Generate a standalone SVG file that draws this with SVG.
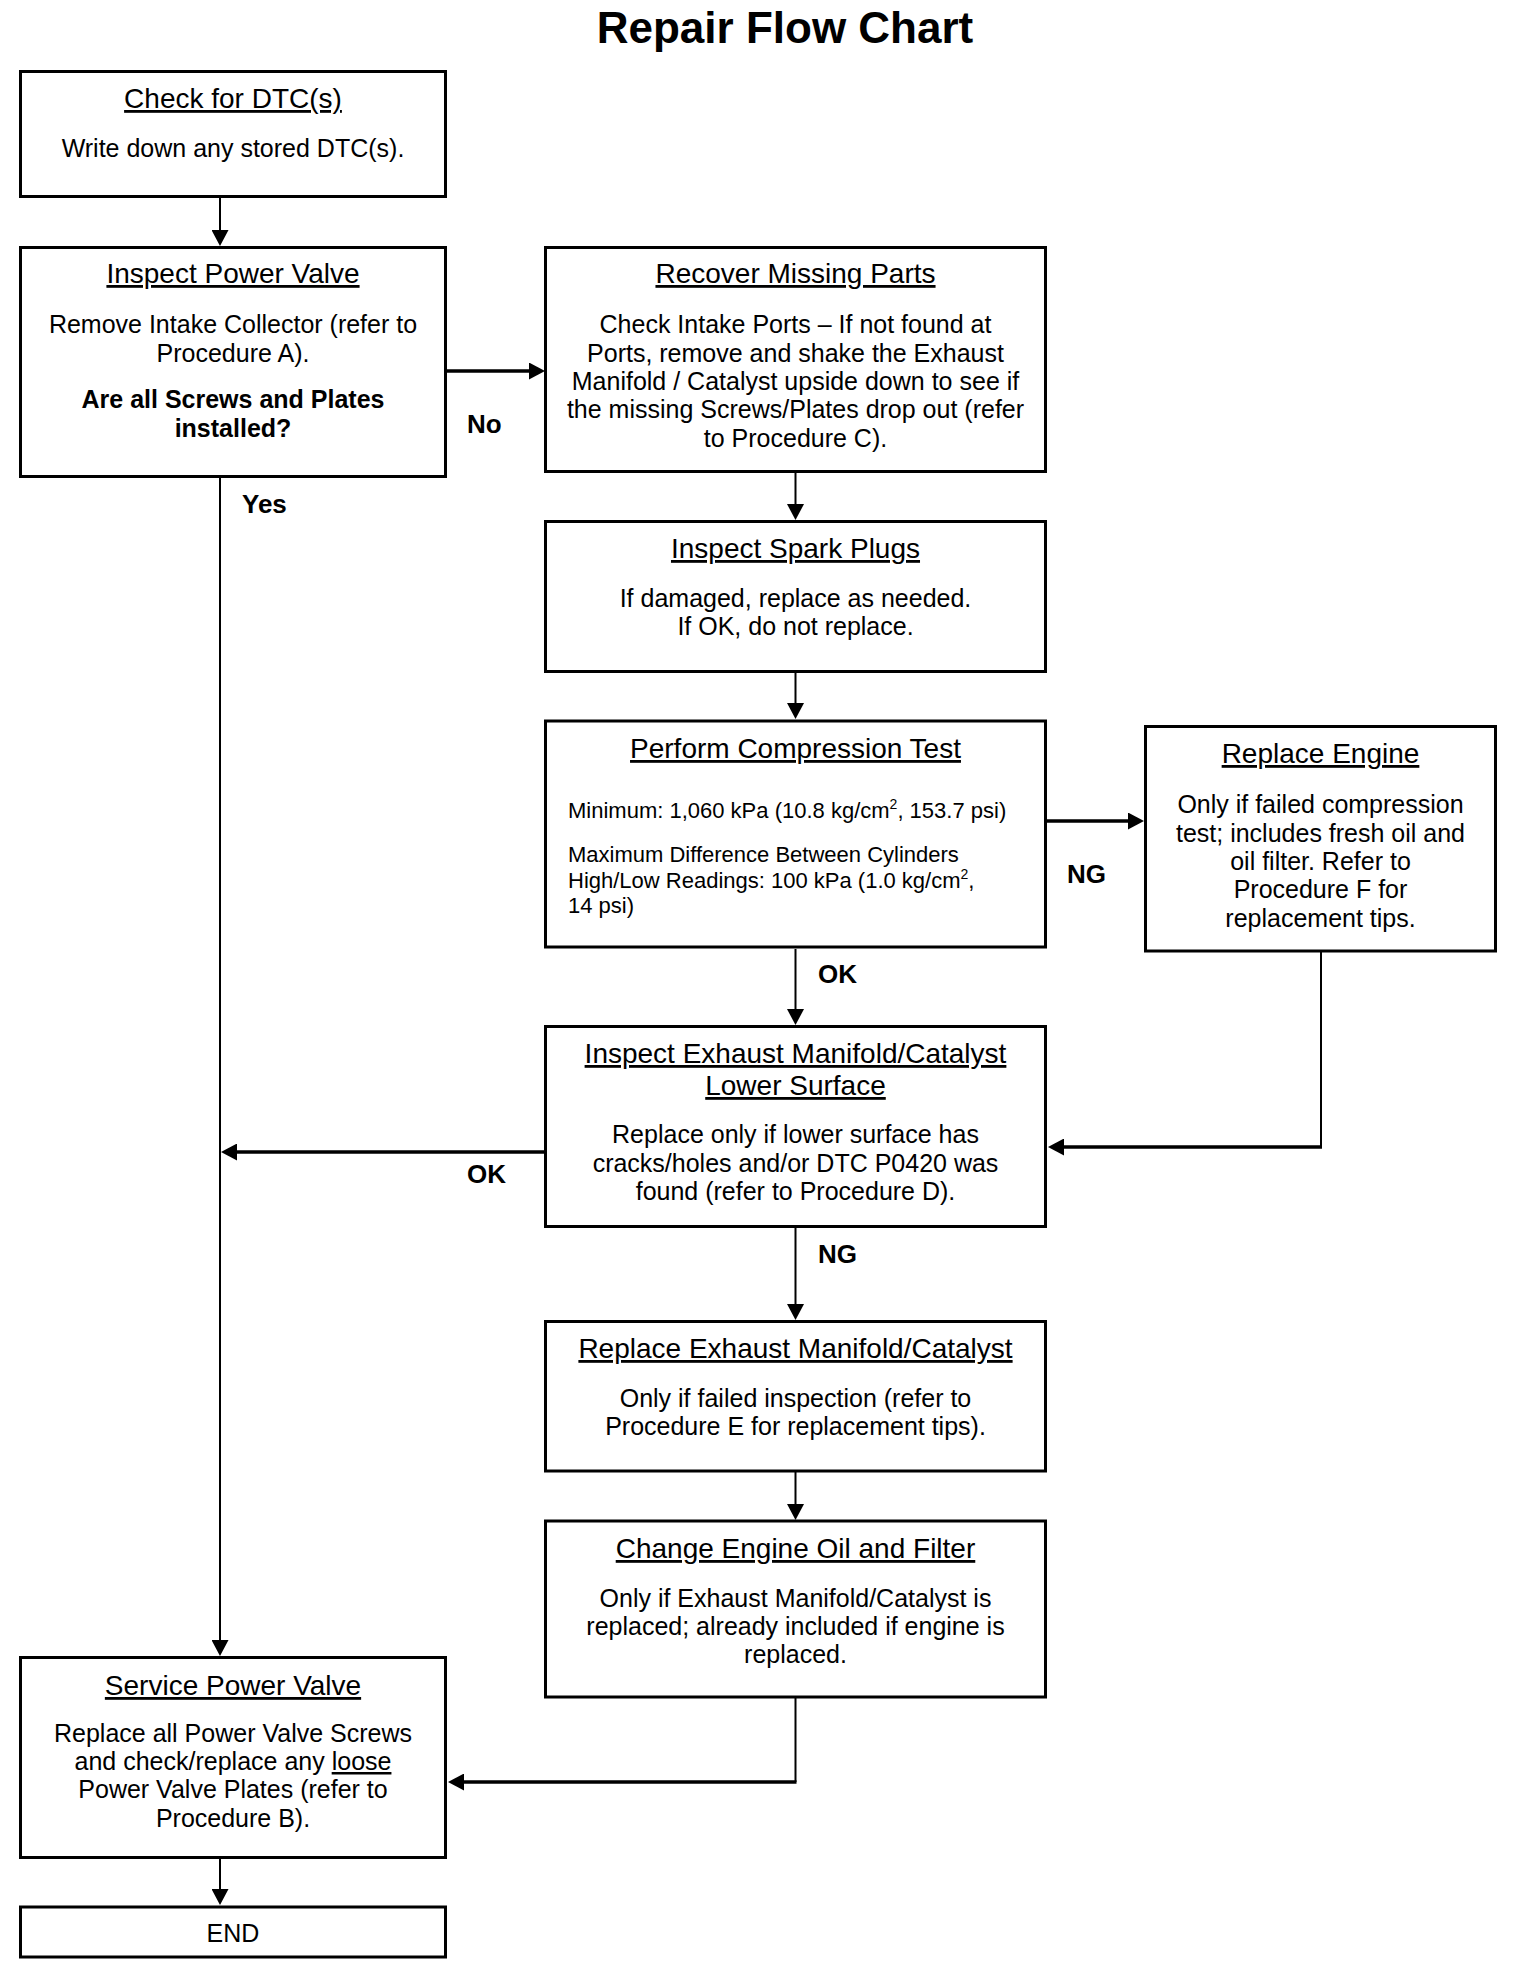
<svg xmlns="http://www.w3.org/2000/svg" width="1520" height="1968" viewBox="0 0 1520 1968">
<style>
.box{fill:#fff;stroke:#000;stroke-width:3}
text{font-family:"Liberation Sans",Arial,sans-serif;fill:#000}
.title{font-size:44px;font-weight:bold;text-anchor:middle}
.h{font-size:28px;text-anchor:middle;text-decoration:underline}
.t{font-size:25px;text-anchor:middle}
.tb{font-size:25px;font-weight:bold;text-anchor:middle}
.s{font-size:22px}
.lbl{font-size:26px;font-weight:bold}
.cv{fill:none;stroke:#000;stroke-width:2}
.ch{fill:none;stroke:#000;stroke-width:3.5}
</style>
<defs>
<marker id="ah" markerUnits="userSpaceOnUse" markerWidth="16" markerHeight="17" refX="8" refY="8.5" orient="auto" viewBox="0 0 16 17">
<path d="M0,0 L16,8.5 L0,17 Z" fill="#000"/>
</marker>
</defs>
<rect x="0" y="0" width="1520" height="1968" fill="#fff"/>
<text class="title" x="785" y="43">Repair Flow Chart</text>

<g id="connectors">
<path class="cv" d="M220,197 V238" marker-end="url(#ah)"/>
<path class="ch" d="M447,371 H537" marker-end="url(#ah)"/>
<path class="cv" d="M220,478 V1648" marker-end="url(#ah)"/>
<path class="cv" d="M795.5,473 V512" marker-end="url(#ah)"/>
<path class="cv" d="M795.5,673 V711" marker-end="url(#ah)"/>
<path class="ch" d="M1047,821 H1136" marker-end="url(#ah)"/>
<path class="cv" d="M795.5,949 V1017" marker-end="url(#ah)"/>
<path class="cv" d="M1321,952 V1147"/>
<path class="ch" d="M1322,1147 H1056" marker-end="url(#ah)"/>
<path class="ch" d="M544,1152 H229" marker-end="url(#ah)"/>
<path class="cv" d="M795.5,1228 V1312" marker-end="url(#ah)"/>
<path class="cv" d="M795.5,1472 V1512" marker-end="url(#ah)"/>
<path class="cv" d="M795.5,1698 V1782"/>
<path class="ch" d="M796.5,1782 H456" marker-end="url(#ah)"/>
<path class="cv" d="M220,1859 V1897" marker-end="url(#ah)"/>
<text class="lbl" x="467" y="433">No</text>
<text class="lbl" x="242" y="513">Yes</text>
<text class="lbl" x="1067" y="883">NG</text>
<text class="lbl" x="818" y="983">OK</text>
<text class="lbl" x="467" y="1183">OK</text>
<text class="lbl" x="818" y="1263">NG</text>
</g>

<g id="check-dtc">
<rect class="box" x="20.5" y="71.5" width="425" height="125"/>
<text class="h" x="233" y="108">Check for DTC(s)</text>
<text class="t" x="233" y="157">Write down any stored DTC(s).</text>
</g>

<g id="inspect-power-valve">
<rect class="box" x="20.5" y="247.5" width="425" height="229"/>
<text class="h" x="233" y="283">Inspect Power Valve</text>
<text class="t" x="233" y="333">Remove Intake Collector (refer to</text>
<text class="t" x="233" y="362">Procedure A).</text>
<text class="tb" x="233" y="408">Are all Screws and Plates</text>
<text class="tb" x="233" y="437">installed?</text>
</g>

<g id="recover-missing-parts">
<rect class="box" x="545.5" y="247.5" width="500" height="224"/>
<text class="h" x="795.5" y="283">Recover Missing Parts</text>
<text class="t" x="795.5" y="333">Check Intake Ports – If not found at</text>
<text class="t" x="795.5" y="362">Ports, remove and shake the Exhaust</text>
<text class="t" x="795.5" y="390">Manifold / Catalyst upside down to see if</text>
<text class="t" x="795.5" y="418">the missing Screws/Plates drop out (refer</text>
<text class="t" x="795.5" y="447">to Procedure C).</text>
</g>

<g id="inspect-spark-plugs">
<rect class="box" x="545.5" y="521.5" width="500" height="150"/>
<text class="h" x="795.5" y="558">Inspect Spark Plugs</text>
<text class="t" x="795.5" y="607">If damaged, replace as needed.</text>
<text class="t" x="795.5" y="635">If OK, do not replace.</text>
</g>

<g id="compression-test">
<rect class="box" x="545.5" y="721" width="500" height="226"/>
<text class="h" x="795.5" y="758">Perform Compression Test</text>
<text class="s" x="568" y="818">Minimum: 1,060 kPa (10.8 kg/cm<tspan font-size="14" dy="-9">2</tspan><tspan dy="9">, 153.7 psi)</tspan></text>
<text class="s" x="568" y="862">Maximum Difference Between Cylinders</text>
<text class="s" x="568" y="888">High/Low Readings: 100 kPa (1.0 kg/cm<tspan font-size="14" dy="-9">2</tspan><tspan dy="9">,</tspan></text>
<text class="s" x="568" y="913">14 psi)</text>
</g>

<g id="replace-engine">
<rect class="box" x="1145.5" y="726.5" width="350" height="224.5"/>
<text class="h" x="1320.5" y="763">Replace Engine</text>
<text class="t" x="1320.5" y="813">Only if failed compression</text>
<text class="t" x="1320.5" y="842">test; includes fresh oil and</text>
<text class="t" x="1320.5" y="870">oil filter. Refer to</text>
<text class="t" x="1320.5" y="898">Procedure F for</text>
<text class="t" x="1320.5" y="927">replacement tips.</text>
</g>

<g id="inspect-exhaust">
<rect class="box" x="545.5" y="1026.5" width="500" height="200"/>
<text class="h" x="795.5" y="1063">Inspect Exhaust Manifold/Catalyst</text>
<text class="h" x="795.5" y="1095">Lower Surface</text>
<text class="t" x="795.5" y="1143">Replace only if lower surface has</text>
<text class="t" x="795.5" y="1172">cracks/holes and/or DTC P0420 was</text>
<text class="t" x="795.5" y="1200">found (refer to Procedure D).</text>
</g>

<g id="replace-exhaust">
<rect class="box" x="545.5" y="1321.5" width="500" height="149.5"/>
<text class="h" x="795.5" y="1358">Replace Exhaust Manifold/Catalyst</text>
<text class="t" x="795.5" y="1407">Only if failed inspection (refer to</text>
<text class="t" x="795.5" y="1435">Procedure E for replacement tips).</text>
</g>

<g id="change-oil">
<rect class="box" x="545.5" y="1521" width="500" height="176"/>
<text class="h" x="795.5" y="1558">Change Engine Oil and Filter</text>
<text class="t" x="795.5" y="1607">Only if Exhaust Manifold/Catalyst is</text>
<text class="t" x="795.5" y="1635">replaced; already included if engine is</text>
<text class="t" x="795.5" y="1663">replaced.</text>
</g>

<g id="service-power-valve">
<rect class="box" x="20.5" y="1657.5" width="425" height="200"/>
<text class="h" x="233" y="1695">Service Power Valve</text>
<text class="t" x="233" y="1742">Replace all Power Valve Screws</text>
<text class="t" x="233" y="1770">and check/replace any <tspan text-decoration="underline">loose</tspan></text>
<text class="t" x="233" y="1798">Power Valve Plates (refer to</text>
<text class="t" x="233" y="1827">Procedure B).</text>
</g>

<g id="end">
<rect class="box" x="20.5" y="1907" width="425" height="50"/>
<text class="t" x="233" y="1942">END</text>
</g>
</svg>
